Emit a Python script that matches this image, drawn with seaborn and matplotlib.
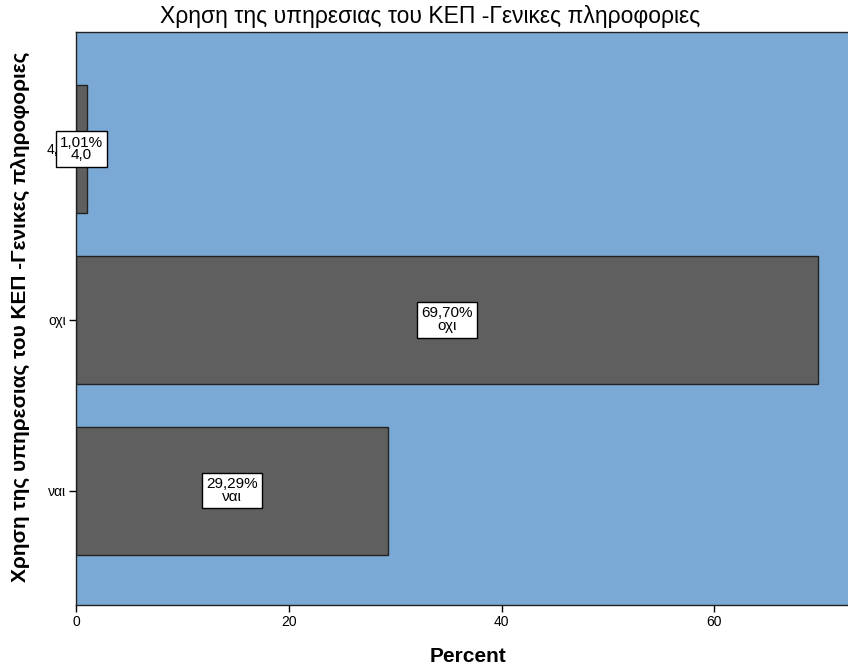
import matplotlib
matplotlib.use("Agg")
import matplotlib.pyplot as plt
import seaborn as sns
import pandas as pd

categories = ["4,0", "οχι", "ναι"]
percents = [1.01, 69.70, 29.29]

title = "Χρηση της υπηρεσιας του ΚΕΠ -Γενικες πληροφοριες"
x_label = "Percent"
x_ticks = [0, 20, 40, 60]

sns.set_theme(style="white")
plt.rcParams["font.family"] = ["Liberation Sans", "DejaVu Sans"]
plt.rcParams["text.color"] = "black"
plt.rcParams["axes.labelcolor"] = "black"
plt.rcParams["xtick.color"] = "black"
plt.rcParams["ytick.color"] = "black"

df = pd.DataFrame({"category": categories, "percent": percents})

W, H = 848, 670
fig = plt.figure(figsize=(W / 100, H / 100), dpi=100)
ax = fig.add_axes([76 / W, 1 - 605 / H, 1 - 76 / W + 0.003, (605 - 32) / H])
ax.set_facecolor("#7ba9d6")

sns.barplot(data=df, x="percent", y="category", order=categories, orient="h",
            color="#5f5f5f", saturation=1, width=0.75, edgecolor="#222222",
            linewidth=1.0, ax=ax)

# value boxes in the middle of each bar
for i, (cat, val) in enumerate(zip(categories, percents)):
    lbl = f"{val:.2f}%".replace(".", ",") + "\n" + cat
    ax.text(val / 2, i, lbl, ha="center", va="center", fontsize=11,
            linespacing=0.9, zorder=5, color="black",
            bbox=dict(boxstyle="square,pad=0.28", facecolor="white",
                      edgecolor="black", linewidth=1.0))

ax.set_xlim(0, 72.8)
ax.set_ylim(2.67, -0.685)
ax.set_xticks(x_ticks)
ax.set_xticklabels([str(t) for t in x_ticks], fontsize=10)
ax.set_yticks(range(len(categories)))
ax.set_yticklabels(categories, fontsize=10)
ax.tick_params(axis="both", which="both", direction="out", length=5, width=1,
               color="black", labelcolor="black", pad=2, bottom=True, left=True)

for side in ["left", "bottom", "top"]:
    ax.spines[side].set_color("#222222")
    ax.spines[side].set_linewidth(1.0)
ax.spines["right"].set_visible(False)

ax.set_xlabel(x_label, fontsize=15, fontweight="bold", color="black")
ax.xaxis.set_label_coords(468 / W, 1 - 657 / H, transform=fig.transFigure)
ax.set_ylabel(title, fontsize=15, fontweight="bold", color="black")
ax.yaxis.set_label_coords(20 / W, 1 - 317 / H, transform=fig.transFigure)
ax.xaxis.label.set_va("center")
ax.yaxis.label.set_va("center")
fig.text(430 / W, 1 - 17 / H, title, ha="center", va="center", fontsize=16.5,
         color="black")

fig.savefig("out.png", dpi=100)
